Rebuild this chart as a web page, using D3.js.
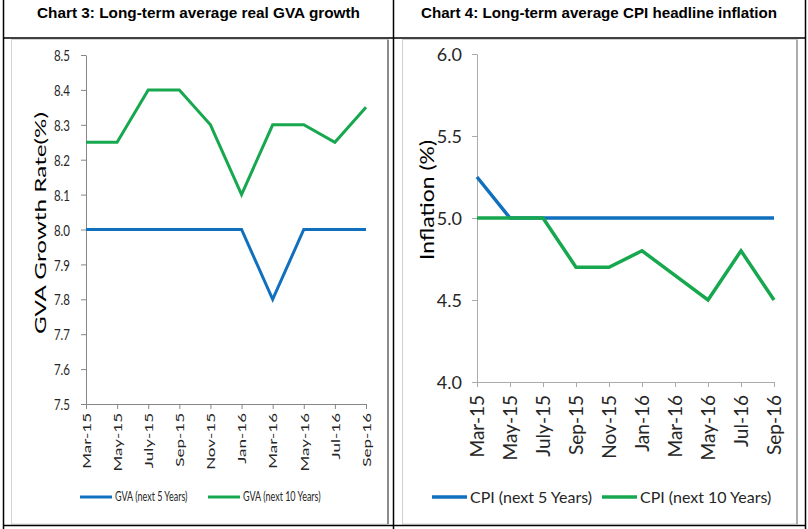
<!DOCTYPE html>
<html>
<head>
<meta charset="utf-8">
<script src="https://cdn.jsdelivr.net/npm/d3@7"></script>
<style>
  html, body { margin: 0; padding: 0; background: #fff; }
  svg { display: block; }
</style>
</head>
<body>
<svg id="chart" width="808" height="529"></svg>
<script>
// ---------- data ----------
const months = ["Mar-15","May-15","July-15","Sep-15","Nov-15","Jan-16","Mar-16","May-16","Jul-16","Sep-16"];
const gva5  = [8.0, 8.0, 8.0, 8.0, 8.0, 8.0, 7.8, 8.0, 8.0, 8.0];
const gva10 = [8.25, 8.25, 8.4, 8.4, 8.3, 8.1, 8.3, 8.3, 8.25, 8.35];
const cpi5  = [5.25, 5.0, 5.0, 5.0, 5.0, 5.0, 5.0, 5.0, 5.0, 5.0];
const cpi10 = [5.0, 5.0, 5.0, 4.7, 4.7, 4.8, 4.65, 4.5, 4.8, 4.5];
const gvaTicks = [7.5, 7.6, 7.7, 7.8, 7.9, 8.0, 8.1, 8.2, 8.3, 8.4, 8.5];
const cpiTicks = [4.0, 4.5, 5.0, 5.5, 6.0];
const titles = ["Chart 3: Long-term average real GVA growth", "Chart 4: Long-term average CPI headline inflation"];
const gvaLegend = ["GVA (next 5 Years)", "GVA (next 10 Years)"];
const cpiLegend = ["CPI (next 5 Years)", "CPI (next 10 Years)"];

const BLUE = "#1070BE", GREEN = "#17A84F";
const svg = d3.select("#chart");

// ---------- table frame ----------
const frame = svg.append("g");
frame.append("rect").attr("x", 11.5).attr("y", 39.5).attr("width", 376).attr("height", 484.5)
  .attr("fill", "none").attr("stroke", "#d4d4d4").attr("stroke-width", 1);
frame.append("line").attr("x1", 388).attr("x2", 388).attr("y1", 39.5).attr("y2", 524)
  .attr("stroke", "#8c8c8c").attr("stroke-width", 2);
frame.append("rect").attr("x", 402.5).attr("y", 39.5).attr("width", 394.5).attr("height", 484.5)
  .attr("fill", "none").attr("stroke", "#cfcfcf").attr("stroke-width", 1);
frame.append("line").attr("x1", 797).attr("x2", 797).attr("y1", 39.5).attr("y2", 524)
  .attr("stroke", "#9a9a9a").attr("stroke-width", 1.5);
// black table lines
[[3.5, 0, 3.5, 529], [393.5, 0, 393.5, 529], [805.5, 0, 805.5, 529], [3, 38, 806, 38], [3, 525.5, 806, 525.5]]
  .forEach(l => frame.append("line").attr("x1", l[0]).attr("y1", l[1]).attr("x2", l[2]).attr("y2", l[3])
    .attr("stroke", "#000").attr("stroke-width", 1.5));

// titles
svg.append("text").attr("x", 37).attr("y", 18)
  .attr("font-family", "Liberation Sans, Arial, sans-serif").attr("font-weight", "bold")
  .attr("font-size", 15).attr("fill", "#000")
  .attr("textLength", 323).attr("lengthAdjust", "spacingAndGlyphs").text(titles[0]);
svg.append("text").attr("x", 421).attr("y", 18)
  .attr("font-family", "Liberation Sans, Arial, sans-serif").attr("font-weight", "bold")
  .attr("font-size", 15).attr("fill", "#000")
  .attr("textLength", 356).attr("lengthAdjust", "spacingAndGlyphs").text(titles[1]);

// ---------- generic chart ----------
function drawChart(cfg) {
  const g = svg.append("g");
  const x = d3.scalePoint().domain(months).range([cfg.x0, cfg.x1]);
  const y = d3.scaleLinear().domain(cfg.domain).range([cfg.y1, cfg.y0]);
  const s = cfg.sx;

  // y axis
  const ya = g.append("g").attr("transform", `translate(${cfg.x0},0)`)
    .call(d3.axisLeft(y).tickValues(cfg.ticks).tickFormat(d3.format(".1f")).tickSize(5).tickSizeOuter(0));
  ya.select(".domain").attr("stroke", cfg.axisColor);
  ya.selectAll(".tick line").attr("stroke", cfg.axisColor);
  ya.selectAll(".tick text")
    .attr("font-family", cfg.font).attr("font-size", cfg.yFont).attr("fill", cfg.textColor)
    .attr("x", -cfg.yPad / s).attr("dy", "0.35em")
    .attr("transform", `scale(${s},1)`);

  // x axis
  const xa = g.append("g").attr("transform", `translate(0,${cfg.y1})`)
    .call(d3.axisBottom(x).tickSize(5).tickSizeOuter(0));
  xa.select(".domain").attr("stroke", cfg.axisColor);
  xa.selectAll(".tick line").attr("stroke", cfg.axisColor);
  xa.selectAll(".tick text")
    .attr("font-family", cfg.font).attr("font-size", cfg.xFont).attr("fill", cfg.textColor)
    .attr("text-anchor", "end").attr("x", 0).attr("y", 0).attr("dy", "0.35em")
    .attr("transform", `translate(0,${cfg.xPad}) scale(${s},1) rotate(-90)`);

  // y title
  g.append("text").attr("text-anchor", "middle")
    .attr("transform", `translate(${cfg.titleX},${cfg.titleY}) scale(${s},1) rotate(-90)`)
    .attr("font-family", cfg.font).attr("font-size", cfg.titleFont).attr("fill", "#000")
    .attr("textLength", cfg.titleLen).attr("lengthAdjust", "spacingAndGlyphs")
    .attr("dy", "0.35em").text(cfg.yTitle);

  // lines
  const line = d3.line().x((d, i) => x(months[i])).y(d => y(d));
  cfg.series.forEach((sr, k) => {
    g.append("path").datum(sr).attr("d", line).attr("fill", "none")
      .attr("stroke", cfg.colors[k]).attr("stroke-width", cfg.lw).attr("stroke-linejoin", "miter");
  });

  // legend
  cfg.legend.forEach((name, k) => {
    const lx = cfg.legX[k];
    g.append("line").attr("x1", lx).attr("x2", lx + cfg.legLen).attr("y1", cfg.legY).attr("y2", cfg.legY)
      .attr("stroke", cfg.colors[k]).attr("stroke-width", cfg.lw);
    g.append("text")
      .attr("transform", `translate(${lx + cfg.legLen + 3},${cfg.legY}) scale(${s},1)`)
      .attr("dy", "0.35em").attr("font-family", cfg.font).attr("font-size", cfg.legFont)
      .attr("fill", cfg.textColor).text(name);
  });
}

drawChart({
  x0: 86, x1: 366, y0: 55, y1: 404, domain: [7.5, 8.5], ticks: gvaTicks,
  sx: 0.72, font: "Lato, sans-serif", textColor: "#262626", axisColor: "#868686",
  yFont: 16, yPad: 16, xFont: 17, xPad: 9,
  yTitle: "GVA Growth Rate(%)", titleX: 40, titleY: 223, titleFont: 22, titleLen: 222,
  series: [gva5, gva10], colors: [BLUE, GREEN], lw: 3,
  legend: gvaLegend, legX: [80, 208], legLen: 32, legY: 497, legFont: 12.5
});

drawChart({
  x0: 477, x1: 774, y0: 54, y1: 382, domain: [4.0, 6.0], ticks: cpiTicks,
  sx: 1, font: "Lato, sans-serif", textColor: "#262626", axisColor: "#ababab",
  yFont: 18, yPad: 15, xFont: 19, xPad: 13,
  yTitle: "Inflation (%)", titleX: 427, titleY: 200, titleFont: 19, titleLen: 120,
  series: [cpi5, cpi10], colors: [BLUE, GREEN], lw: 3.5,
  legend: cpiLegend, legX: [432, 602], legLen: 35, legY: 497, legFont: 16
});
</script>
</body>
</html>
